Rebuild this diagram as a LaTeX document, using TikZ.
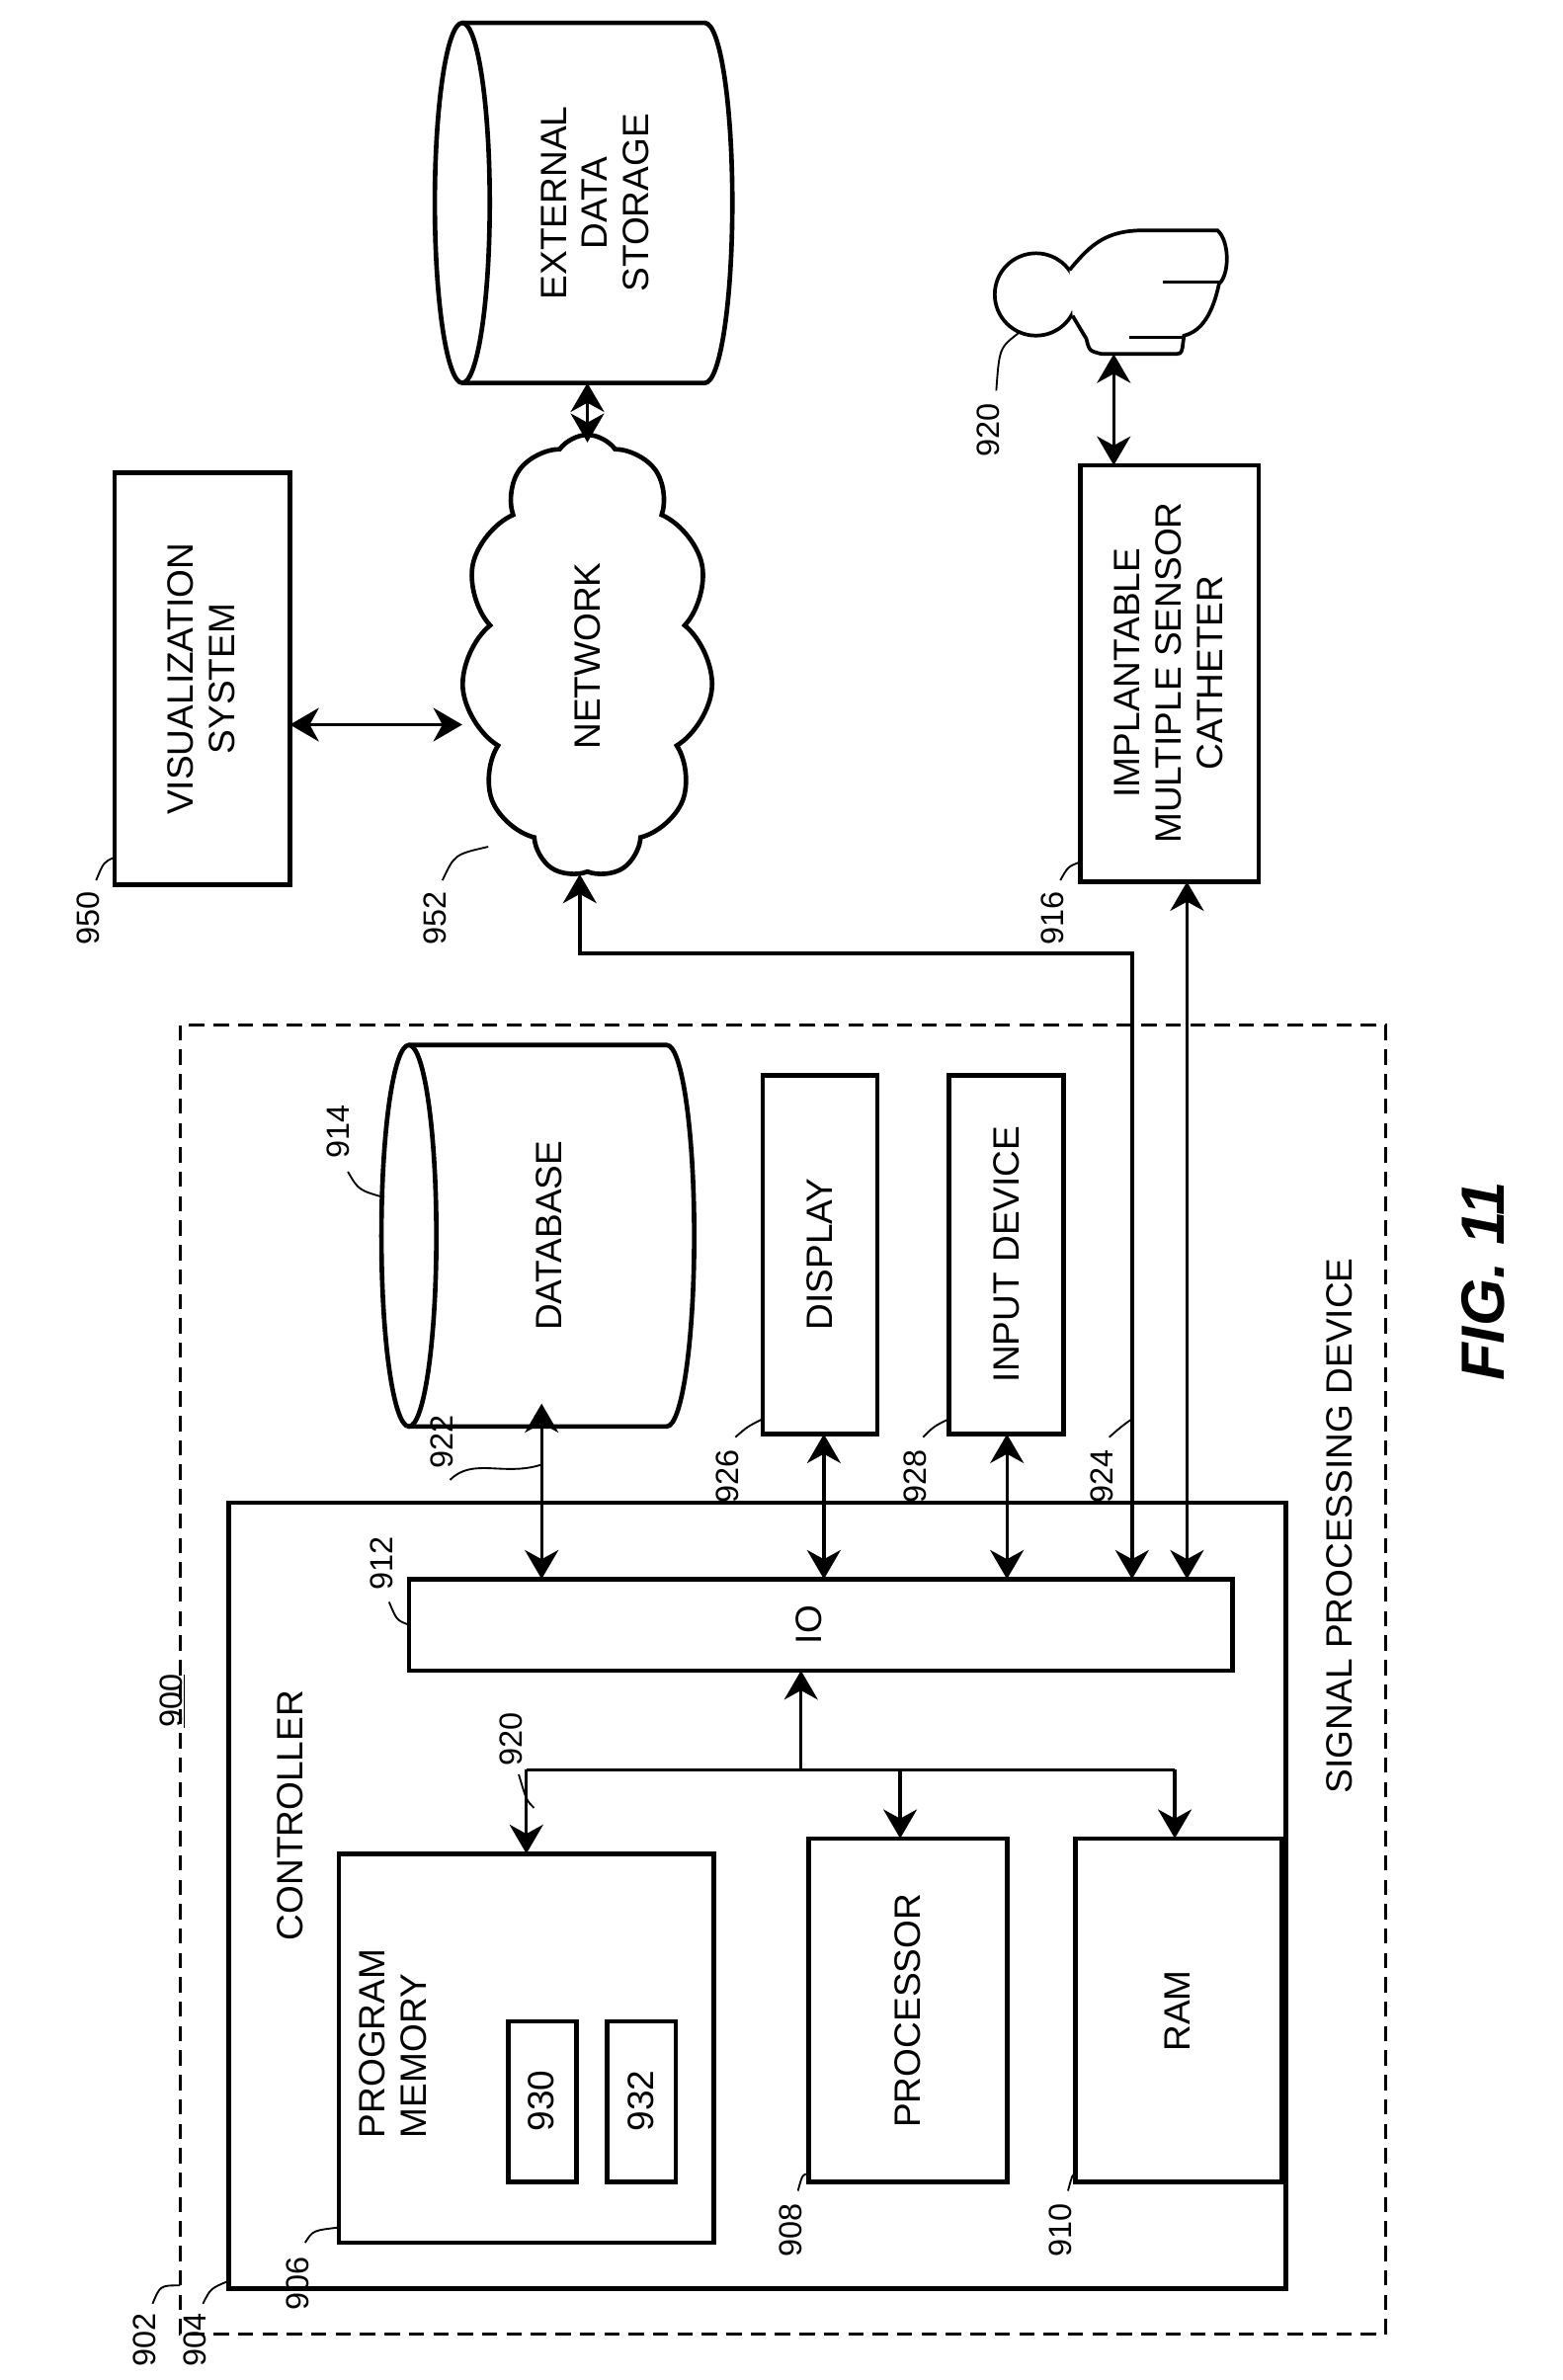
\documentclass[tikz,border=0pt]{standalone}
\usepackage{fontspec}
\setmainfont{Liberation Sans}
\usetikzlibrary{arrows.meta,shapes.symbols}
\begin{document}
\begin{tikzpicture}[x=1pt,y=-1pt,
  bx/.style={draw,line width=3pt,fill=white},
  lbl/.style={rotate=90,font=\fontsize{24}{27}\selectfont,align=center},
  num/.style={rotate=90,font=\fontsize{21}{23}\selectfont},
  tip/.style={Stealth[length=19pt,width=22pt,inset=6pt]},
  arr/.style={line width=2.2pt,{Stealth[length=19pt,width=22pt,inset=6pt]}-{Stealth[length=19pt,width=22pt,inset=6pt]}},
  arx/.style={line width=2.2pt,-{Stealth[length=19pt,width=22pt,inset=6pt]}},
  ld/.style={line width=1.2pt}]
\useasboundingbox (0,0) rectangle (1024,1560);
% outer dashed
\draw[line width=1.8pt,dash pattern=on 10pt off 6pt] (118,672) rectangle (908,1530);
\node[lbl] (spd) at (878,1000) {SIGNAL PROCESSING DEVICE};
\draw[line width=3pt] (150,985) rectangle (843,1500);
\node[lbl] (ctl) at (190,1190) {CONTROLLER};
% IO
\draw[bx] (268,1035) rectangle (808,1095);
\node[lbl] (io) at (530,1065) {IO};
% program memory
\draw[bx] (222,1215) rectangle (468,1470);
\node[lbl,anchor=north west,align=left] (pm) at (232,1405) {PROGRAM\\MEMORY};
\draw[bx] (333,1325) rectangle (378,1430); \node[lbl] (n930) at (355,1377) {930};
\draw[bx] (398,1325) rectangle (443,1430); \node[lbl] (n932) at (420,1377) {932};
\draw[bx] (530,1205) rectangle (660,1430); \node[lbl] (proc) at (595,1318) {PROCESSOR};
\draw[bx] (705,1205) rectangle (840,1430); \node[lbl] (ram) at (772,1318) {RAM};
% bus
\coordinate (b1) at (345,1160); \coordinate (b2) at (770,1160);
\draw[line width=2.2pt] (b1) -- (b2);
\draw[arx] (b1) -- (345,1215);
\draw[arx] (590,1160) -- (590,1205);
\draw[arx] (b2) -- (770,1205);
\draw[arx] (525,1160) -- (525,1095);
% database
\draw[bx] (268,685) -- (437,685) arc[start angle=-90,end angle=90,x radius=18,y radius=125] -- (268,935);
\draw[bx] (268,810) ellipse[x radius=18,y radius=125];
\node[lbl] (db) at (360,810) {DATABASE};
\draw[arr] (355,920) -- (355,1035);
% display / input
\draw[bx] (500,705) rectangle (575,940); \node[lbl] (disp) at (537,822) {DISPLAY};
\draw[bx] (622,705) rectangle (697,940); \node[lbl] (inp) at (660,822) {INPUT DEVICE};
\draw[arr] (540,940) -- (540,1035);
\draw[arr] (660,940) -- (660,1035);
% 916
\draw[bx] (708,305) rectangle (825,578);
\node[lbl] (cath) at (766,441) {IMPLANTABLE\\MULTIPLE SENSOR\\CATHETER};
\draw[arr] (778,578) -- (778,1035);
\draw[arr] (742,1035) -- (742,625) -- (380,625) -- (380,573);
% person
\draw[line width=2.4pt,fill=white] (679,193) circle (27);
\draw[line width=2.4pt,fill=white] (701,177) .. controls (715,160) and (725,151) .. (750,151) -- (798,151) .. controls (806,158) and (806,180) .. (799,186) .. controls (795,205) and (788,217) .. (776,220) -- (775,228) .. controls (774,232) .. (768,232) -- (722,232) .. controls (714,230) .. (712,222) -- (703,207);
\draw[line width=2pt] (762,185) -- (799,185);
\draw[line width=2pt] (740,221) -- (776,221);
\draw[arr] (730,232) -- (730,305);
% visualization
\draw[bx] (75,310) rectangle (190,580);
\node[lbl] (vis) at (132,445) {VISUALIZATION\\SYSTEM};
% network
\node[cloud,draw,line width=3pt,cloud puffs=11,cloud puff arc=110,aspect=0.55,minimum width=165pt,minimum height=290pt,inner sep=0] (net) at (385,430) {};
\node[lbl] (nett) at (385,430) {NETWORK};
\draw[arr] (190,475) -- (303,475);
% external storage
\draw[bx] (303,15) -- (462,15) arc[start angle=-90,end angle=90,x radius=18,y radius=118] -- (303,251);
\draw[bx] (303,133) ellipse[x radius=18,y radius=118];
\node[lbl] (ext) at (390,133) {EXTERNAL\\DATA\\STORAGE};
\draw[arr] (385,251) -- (385,290);
% labels
\node[num] (l900) at (113,1115) {\underline{900}};
\node[num] (l902) at (95,1534) {902}; \draw[ld] (100,1510) .. controls (105,1498) .. (118,1498);
\node[num] (l904) at (128,1534) {904}; \draw[ld] (133,1510) .. controls (138,1500) .. (150,1495);
\node[num] (l906) at (195,1497) {906}; \draw[ld] (200,1470) .. controls (205,1462) .. (222,1460);
\node[num] (l908) at (518,1462) {908}; \draw[ld] (523,1436) .. controls (526,1425) .. (530,1425);
\node[num] (l910) at (695,1462) {910}; \draw[ld] (700,1436) .. controls (703,1425) .. (705,1425);
\node[num] (l920a) at (335,1140) {920}; \draw[ld] (340,1163) .. controls (345,1180) .. (350,1185);
\node[num] (l912) at (250,1025) {912}; \draw[ld] (255,1050) .. controls (260,1062) .. (268,1065);
\node[num] (l922) at (290,945) {922}; \draw[ld] (295,970) .. controls (310,955) and (330,968) .. (355,960);
\node[num] (l914) at (222,742) {914}; \draw[ld] (228,768) .. controls (235,780) .. (252,785);
\node[num] (l926) at (477,968) {926}; \draw[ld] (482,942) .. controls (490,935) .. (500,930);
\node[num] (l928) at (600,968) {928}; \draw[ld] (605,942) .. controls (612,935) .. (622,930);
\node[num] (l924) at (722,968) {924}; \draw[ld] (727,942) .. controls (735,935) .. (742,930);
\node[num] (l916) at (690,602) {916}; \draw[ld] (695,577) .. controls (700,568) .. (708,565);
\node[num] (l920b) at (648,282) {920}; \draw[ld] (653,256) .. controls (655,228) .. (668,218);
\node[num] (l950) at (58,602) {950}; \draw[ld] (63,577) .. controls (68,565) .. (75,562);
\node[num] (l952) at (285,602) {952}; \draw[ld] (290,577) .. controls (298,560) .. (320,555);
\node[rotate=90,font=\fontsize{40}{44}\selectfont\bfseries\itshape] (fig) at (972,840) {FIG. 11};
\end{tikzpicture}
\end{document}
